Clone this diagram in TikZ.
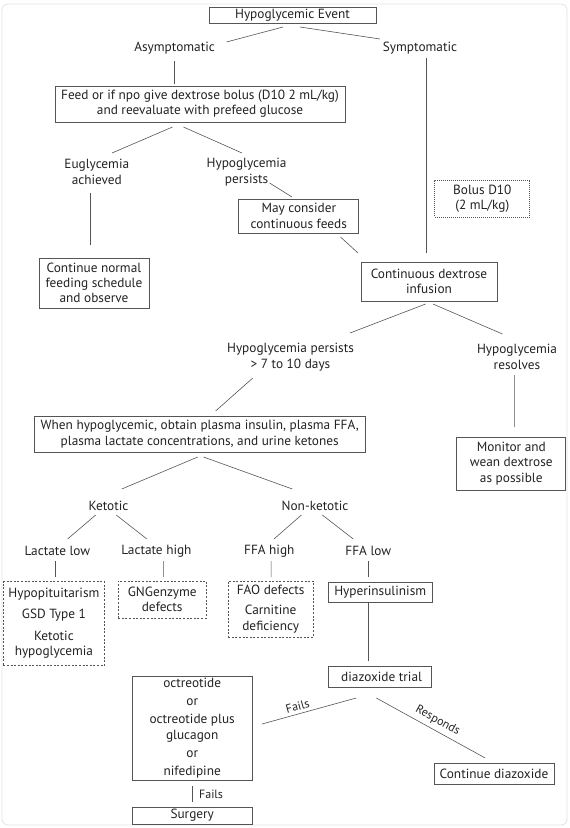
\documentclass[tikz,border=0pt]{standalone}
\usepackage{fontspec}
\setmainfont{PT Sans}
\usetikzlibrary{calc}
\definecolor{linec}{HTML}{555555}
\definecolor{txt}{HTML}{222222}
\definecolor{framec}{HTML}{E2E2E2}
\newcommand\mainfs{\fontsize{13.3}{15.3}\selectfont}
\newcommand\smallfs{\fontsize{12}{13}\selectfont}
\begin{document}
\begin{tikzpicture}[x=1pt,y=-1pt,
  box/.style={draw=linec, line width=0.8pt, inner sep=0pt, align=center, text=txt, font=\mainfs},
  dbox/.style={box, dash pattern=on 2pt off 1.6pt},
  obox/.style={box, dash pattern=on 1pt off 1pt},
  lbl/.style={inner sep=0pt, align=center, text=txt, font=\mainfs},
  conn/.style={draw=linec, line width=0.6pt},
  elbl/.style={inner sep=1pt, text=txt, font=\smallfs}]
\useasboundingbox (0,0) rectangle (570,828);
\draw[framec, line width=0.8pt, rounded corners=6pt] (2,4) rectangle (567,825);

% nodes
\node[box, minimum width=167, minimum height=16] (event) at (292.5,15) {Hypoglycemic Event};
\node[lbl] (asym) at (174.6,48) {Asymptomatic};
\node[lbl] (sym) at (420,48) {Symptomatic};
\node[box, minimum width=290, minimum height=36] (feed) at (200,104) {Feed or if npo give dextrose bolus (D10 2 mL/kg)\\and reevaluate with prefeed glucose};
\node[lbl] (eugly) at (96.8,172) {Euglycemia\\achieved};
\node[lbl] (hp1) at (246.6,172) {Hypoglycemia\\persists};
\node[box, minimum width=120, minimum height=34] (may) at (298.8,216) {May consider\\continuous feeds};
\node[obox, minimum width=95, minimum height=37] (bolus) at (482.3,198.5) {Bolus D10\\(2 mL/kg)};
\node[box, minimum width=136, minimum height=39] (cdi) at (429,281.5) {Continuous dextrose\\infusion};
\node[box, minimum width=110, minimum height=50] (cont) at (94,283) {Continue normal\\feeding schedule\\and observe};
\node[lbl] (hp2) at (290.5,357) {Hypoglycemia persists\\> 7 to 10 days};
\node[lbl] (hres) at (517,357) {Hypoglycemia\\resolves};
\node[box, minimum width=331, minimum height=36] (when) at (199.7,434) {When hypoglycemic, obtain plasma insulin, plasma FFA,\\plasma lactate concentrations, and urine ketones};
\node[box, minimum width=109, minimum height=53] (monitor) at (511.3,463.5) {Monitor and\\wean dextrose\\as possible};
\node[lbl] (ket) at (108.5,506) {Ketotic};
\node[lbl] (nonket) at (315,506) {Non-ketotic};
\node[lbl] (llow) at (57.4,551) {Lactate low};
\node[lbl] (lhigh) at (156.4,551) {Lactate high};
\node[lbl] (fhigh) at (269.3,551) {FFA high};
\node[lbl] (flow) at (368.3,551) {FFA low};
\node[dbox, minimum width=101, minimum height=84] (hypopit) at (53.9,623.5) {Hypopituitarism\\[5pt]GSD Type 1\\[7pt]Ketotic\\hypoglycemia};
\node[dbox, minimum width=88, minimum height=37] (gng) at (162.2,599.5) {GNGenzyme\\defects};
\node[dbox, minimum width=85, minimum height=56] (fao) at (270.7,609) {FAO defects\\[5pt]Carnitine\\deficiency};
\node[box, minimum width=104, minimum height=20] (hyper) at (380.2,592) {Hyperinsulinism};
\node[box, minimum width=103, minimum height=21] (diaz) at (379.6,676.5) {\hspace{4pt}diazoxide trial};
\node[box, minimum width=120, minimum height=104] (octr) at (192.2,728) {octreotide\\[3pt]or\\[3pt]octreotide plus\\glucagon\\[3pt]or\\[3pt]nifedipine};
\node[box, minimum width=120, minimum height=21] (contdiaz) at (494,774) {Continue diazoxide};
\node[box, minimum width=120, minimum height=17] (surg) at (192.2,815.5) {Surgery};

% connectors
\draw[conn] ($(event)+(-9.5,12)$) -- ($(asym)+(51.9,-6)$);
\draw[conn] ($(event)+(7.5,12)$) -- ($(sym)+(-40,-9)$);
\draw[conn] ($(asym)+(0,13)$) -- ($(feed)+(-25.4,-20)$);
\draw[conn] ($(sym)+(6.7,10)$) -- ($(cdi)+(-2.3,-28.5)$);
\draw[conn] ($(feed)+(-27.5,23)$) -- ($(eugly)+(15.2,-19)$);
\draw[conn] ($(feed)+(-16.6,23)$) -- ($(hp1)+(-4.6,-19)$);
\draw[conn] ($(eugly)+(-6.2,21)$) -- ($(cont)+(-3.4,-38)$);
\draw[conn] ($(hp1)+(23,11)$) -- ($(may)+(-6.8,-19)$);
\draw[conn] ($(may)+(41.7,21)$) -- ($(cdi)+(-71,-28.5)$);
\draw[conn] ($(cdi)+(-3.4,22.5)$) -- ($(hp2)+(59.5,-24)$);
\draw[conn] ($(cdi)+(4,22.5)$) -- ($(hres)+(-14.6,-23)$);
\draw[conn] ($(hp2)+(-37.7,21)$) -- ($(when)+(15.9,-23)$);
\draw[conn] ($(hres)+(-2.6,18)$) -- ($(monitor)+(3.1,-36.5)$);
\draw[conn] ($(when)+(-2,23)$) -- ($(ket)+(13.2,-17)$);
\draw[conn] ($(when)+(3.8,23)$) -- ($(nonket)+(-22.7,-17)$);
\draw[conn] ($(ket)+(-12.8,9)$) -- ($(llow)+(10.2,-12)$);
\draw[conn] ($(ket)+(7.7,9)$) -- ($(lhigh)+(-9.5,-12)$);
\draw[conn] ($(nonket)+(-13.6,9)$) -- ($(fhigh)+(4.7,-12)$);
\draw[conn] ($(nonket)+(7.3,9)$) -- ($(flow)+(-15,-12)$);
\draw[conn] ($(llow)+(-2.2,10)$) -- ($(hypopit)+(1.3,-46.5)$);
\draw[conn] ($(lhigh)+(6.9,10)$) -- ($(gng)+(1.1,-22.5)$);
\draw[conn] ($(fhigh)+(1.8,10)$) -- ($(fao)+(0.4,-32)$);
\draw[conn] ($(flow)+(0,10)$) -- ($(hyper)+(-11.9,-15)$);
\draw[conn] ($(hyper)+(-11.9,10)$) -- ($(diaz)+(-11.3,-15.5)$);
\draw[conn] ($(octr)+(69.8,-4)$) -- node[elbl, pos=0.4, sloped, above=2pt] (lfails) {Fails} ($(diaz)+(-23.4,21.5)$);
\draw[conn] ($(diaz)+(-3.3,21.5)$) -- node[elbl, pos=0.52, sloped, above=3pt] (lresp) {Responds} ($(contdiaz)+(-8.8,-16)$);
\draw[conn] ($(octr)+(-0.4,58)$) -- node[elbl, right=6pt] (lfails2) {Fails} ($(surg)+(-0.4,-13.5)$);
\end{tikzpicture}
\end{document}
